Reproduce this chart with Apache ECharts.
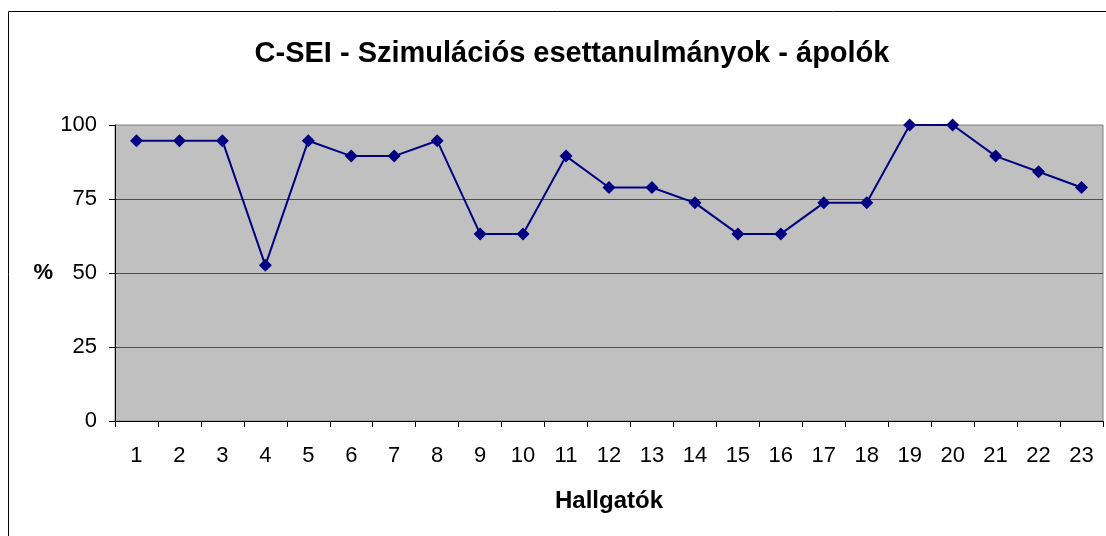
<!DOCTYPE html>
<html>
<head>
<meta charset="utf-8">
<script src="https://cdn.jsdelivr.net/npm/echarts@6/dist/echarts.min.js"></script>
<style>
  html, body { margin: 0; padding: 0; background: #fff; }
  #chart { width: 1106px; height: 536px; }
</style>
</head>
<body>
<div id="chart"></div>
<script>
// hallgatók sorszáma
var students = ["1", "2", "3", "4", "5", "6", "7", "8", "9", "10", "11", "12",
  "13", "14", "15", "16", "17", "18", "19", "20", "21", "22", "23"];
// eredmény %-ban
var scores = [94.7, 94.7, 94.7, 52.6, 94.7, 89.5, 89.5, 94.7, 63.2, 63.2, 89.5, 78.9,
  78.9, 73.7, 63.2, 63.2, 73.7, 73.7, 100, 100, 89.5, 84.2, 78.9];
var yTicks = [0, 25, 50, 75, 100];

var myChart = echarts.init(document.getElementById("chart"));

var option = {
  animation: false,
  textStyle: { fontFamily: "Liberation Sans, Arial, sans-serif" },
  title: {
    text: "C-SEI - Szimulációs esettanulmányok - ápolók",
    left: 567,
    textAlign: "center",
    top: 34,
    textStyle: { fontSize: 29, fontWeight: "bold", color: "#000" }
  },
  // külső keret
  graphic: [{
    type: "rect",
    shape: { x: 8.5, y: 11.5, width: 1200, height: 600 },
    style: { fill: null, stroke: "#000", lineWidth: 1 },
    silent: true
  }],
  grid: {
    left: 115,
    right: 3,
    top: 125,
    bottom: 115,
    show: true,
    backgroundColor: "#c0c0c0",
    borderColor: "#808080",
    borderWidth: 1
  },
  xAxis: {
    type: "category",
    data: students,
    boundaryGap: true,
    name: "Hallgatók",
    nameLocation: "middle",
    nameGap: 68,
    nameTextStyle: { fontSize: 24, fontWeight: "bold", color: "#000" },
    axisLine: { lineStyle: { color: "#000", width: 1 } },
    axisTick: { show: true, length: 6, alignWithLabel: false, lineStyle: { color: "#000" } },
    axisLabel: { fontSize: 22, color: "#000", margin: 24 },
    splitLine: { show: false }
  },
  yAxis: {
    type: "value",
    min: yTicks[0],
    max: yTicks[yTicks.length - 1],
    interval: 25,
    name: "%",
    nameLocation: "middle",
    nameRotate: 0,
    nameGap: 62,
    nameTextStyle: { fontSize: 22, fontWeight: "bold", color: "#000" },
    axisLine: { show: true, lineStyle: { color: "#000", width: 1 } },
    axisTick: { show: true, length: 6, lineStyle: { color: "#000" } },
    axisLabel: { fontSize: 22, color: "#000", margin: 18 },
    splitLine: {
      show: true,
      showMinLine: false,
      showMaxLine: false,
      lineStyle: { color: "#ff0000", width: 1 }
    }
  },
  series: [{
    name: "%",
    type: "line",
    data: scores,
    symbol: "diamond",
    symbolSize: 13,
    itemStyle: { color: "#000080" },
    lineStyle: { color: "#000080", width: 2 }
  }]
};

myChart.setOption(option);
</script>
</body>
</html>
